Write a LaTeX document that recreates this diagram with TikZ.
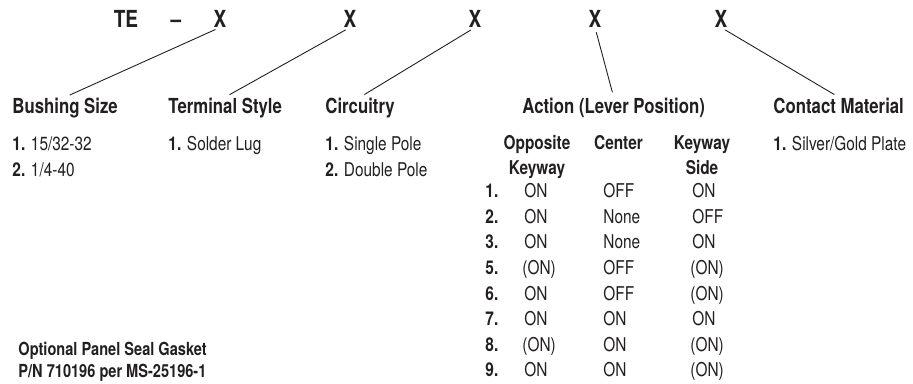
\documentclass[tikz,border=0pt]{standalone}
\usepackage{fontspec}
\setmainfont{TeX Gyre Heros}[FakeStretch=0.81]
\usetikzlibrary{positioning}
\definecolor{ink}{HTML}{231F20}
\tikzset{every picture/.style={line width=0.9pt}}

\begin{document}
\begin{tikzpicture}[x=1pt,y=1pt,inner sep=0pt,color=ink,
    code/.style={font=\fontsize{23.5}{26}\selectfont\bfseries,anchor=base},
    head/.style={font=\fontsize{20.7}{24}\selectfont\bfseries,anchor=base west},
    item/.style={font=\fontsize{19}{26}\selectfont,anchor=base west},
    colhead/.style={font=\fontsize{19}{25}\selectfont\bfseries,align=center,anchor=north},
    leader/.style={shorten <=5pt,shorten >=5pt}]
        \useasboundingbox (0,0) rectangle (913,-383);
        % part number
        \node[code] (te) at (126,-27) {TE};
        \node[code] (dash) at (176,-27) {--};
        \node[code] (x1) at (220,-27) {X};
        \node[code] (x2) at (350,-27) {X};
        \node[code] (x3) at (475,-27) {X};
        \node[code] (x4) at (595,-27) {X};
        \node[code] (x5) at (721,-27) {X};
        % headings
        \node[head] (bush) at (12,-113) {Bushing Size};
        \node[head] (term) at (168,-113) {Terminal Style};
        \node[head] (circ) at (325,-113) {Circuitry};
        \node[head] (act) at (522,-113) {Action (Lever Position)};
        \node[head] (cont) at (773,-113) {Contact Material};
        \draw
            (x1.south) edge[leader] (bush.north)
            (x2.south) edge[leader] (term.north)
            (x3.south) edge[leader] (circ.north)
            (x4.south) edge[leader] (act.north)
            (x5.south) edge[leader] (cont.north)
            ;
        % options
        \node[item] (bush1) at (12,-150) {\textbf{1.} 15/32-32};
        \node[item] (bush2) at (12,-176) {\textbf{2.} 1/4-40};
        \node[item] (term1) at (168,-150) {\textbf{1.} Solder Lug};
        \node[item] (circ1) at (325,-150) {\textbf{1.} Single Pole};
        \node[item] (circ2) at (325,-176) {\textbf{2.} Double Pole};
        \node[item] (cont1) at (773,-150) {\textbf{1.} Silver/Gold Plate};
        % action table
        \node[colhead] (opp) at (537,-135) {Opposite\\Keyway};
        \node[colhead] (cen) at (618.5,-135) {Center};
        \node[colhead] (side) at (702,-135) {Keyway\\Side};
        \node[item] (r1) at (485,-197) {\textbf{1.}};
        \node[item] (r1a) at (524,-197) {ON};
        \node[item] (r1b) at (603,-197) {OFF};
        \node[item] (r1c) at (692,-197) {ON};
        \node[item] (r2) at (485,-223) {\textbf{2.}};
        \node[item] (r2a) at (524,-223) {ON};
        \node[item] (r2b) at (603,-223) {None};
        \node[item] (r2c) at (692,-223) {OFF};
        \node[item] (r3) at (485,-248) {\textbf{3.}};
        \node[item] (r3a) at (524,-248) {ON};
        \node[item] (r3b) at (603,-248) {None};
        \node[item] (r3c) at (692,-248) {ON};
        \node[item] (r5) at (485,-274) {\textbf{5.}};
        \node[item] (r5a) at (522,-274) {(ON)};
        \node[item] (r5b) at (603,-274) {OFF};
        \node[item] (r5c) at (690,-274) {(ON)};
        \node[item] (r6) at (485,-300) {\textbf{6.}};
        \node[item] (r6a) at (524,-300) {ON};
        \node[item] (r6b) at (603,-300) {OFF};
        \node[item] (r6c) at (690,-300) {(ON)};
        \node[item] (r7) at (485,-325) {\textbf{7.}};
        \node[item] (r7a) at (524,-325) {ON};
        \node[item] (r7b) at (603,-325) {ON};
        \node[item] (r7c) at (692,-325) {ON};
        \node[item] (r8) at (485,-351) {\textbf{8.}};
        \node[item] (r8a) at (522,-351) {(ON)};
        \node[item] (r8b) at (603,-351) {ON};
        \node[item] (r8c) at (690,-351) {(ON)};
        \node[item] (r9) at (485,-376) {\textbf{9.}};
        \node[item] (r9a) at (524,-376) {ON};
        \node[item] (r9b) at (603,-376) {ON};
        \node[item] (r9c) at (690,-376) {(ON)};
        % gasket note
        \node[item,font=\fontsize{18}{22}\selectfont\bfseries] (gask1) at (18,-355) {Optional Panel Seal Gasket};
        \node[item,font=\fontsize{18}{22}\selectfont\bfseries] (gask2) at (18,-377) {P/N 710196 per MS-25196-1};
    \end{tikzpicture}
\end{document}
